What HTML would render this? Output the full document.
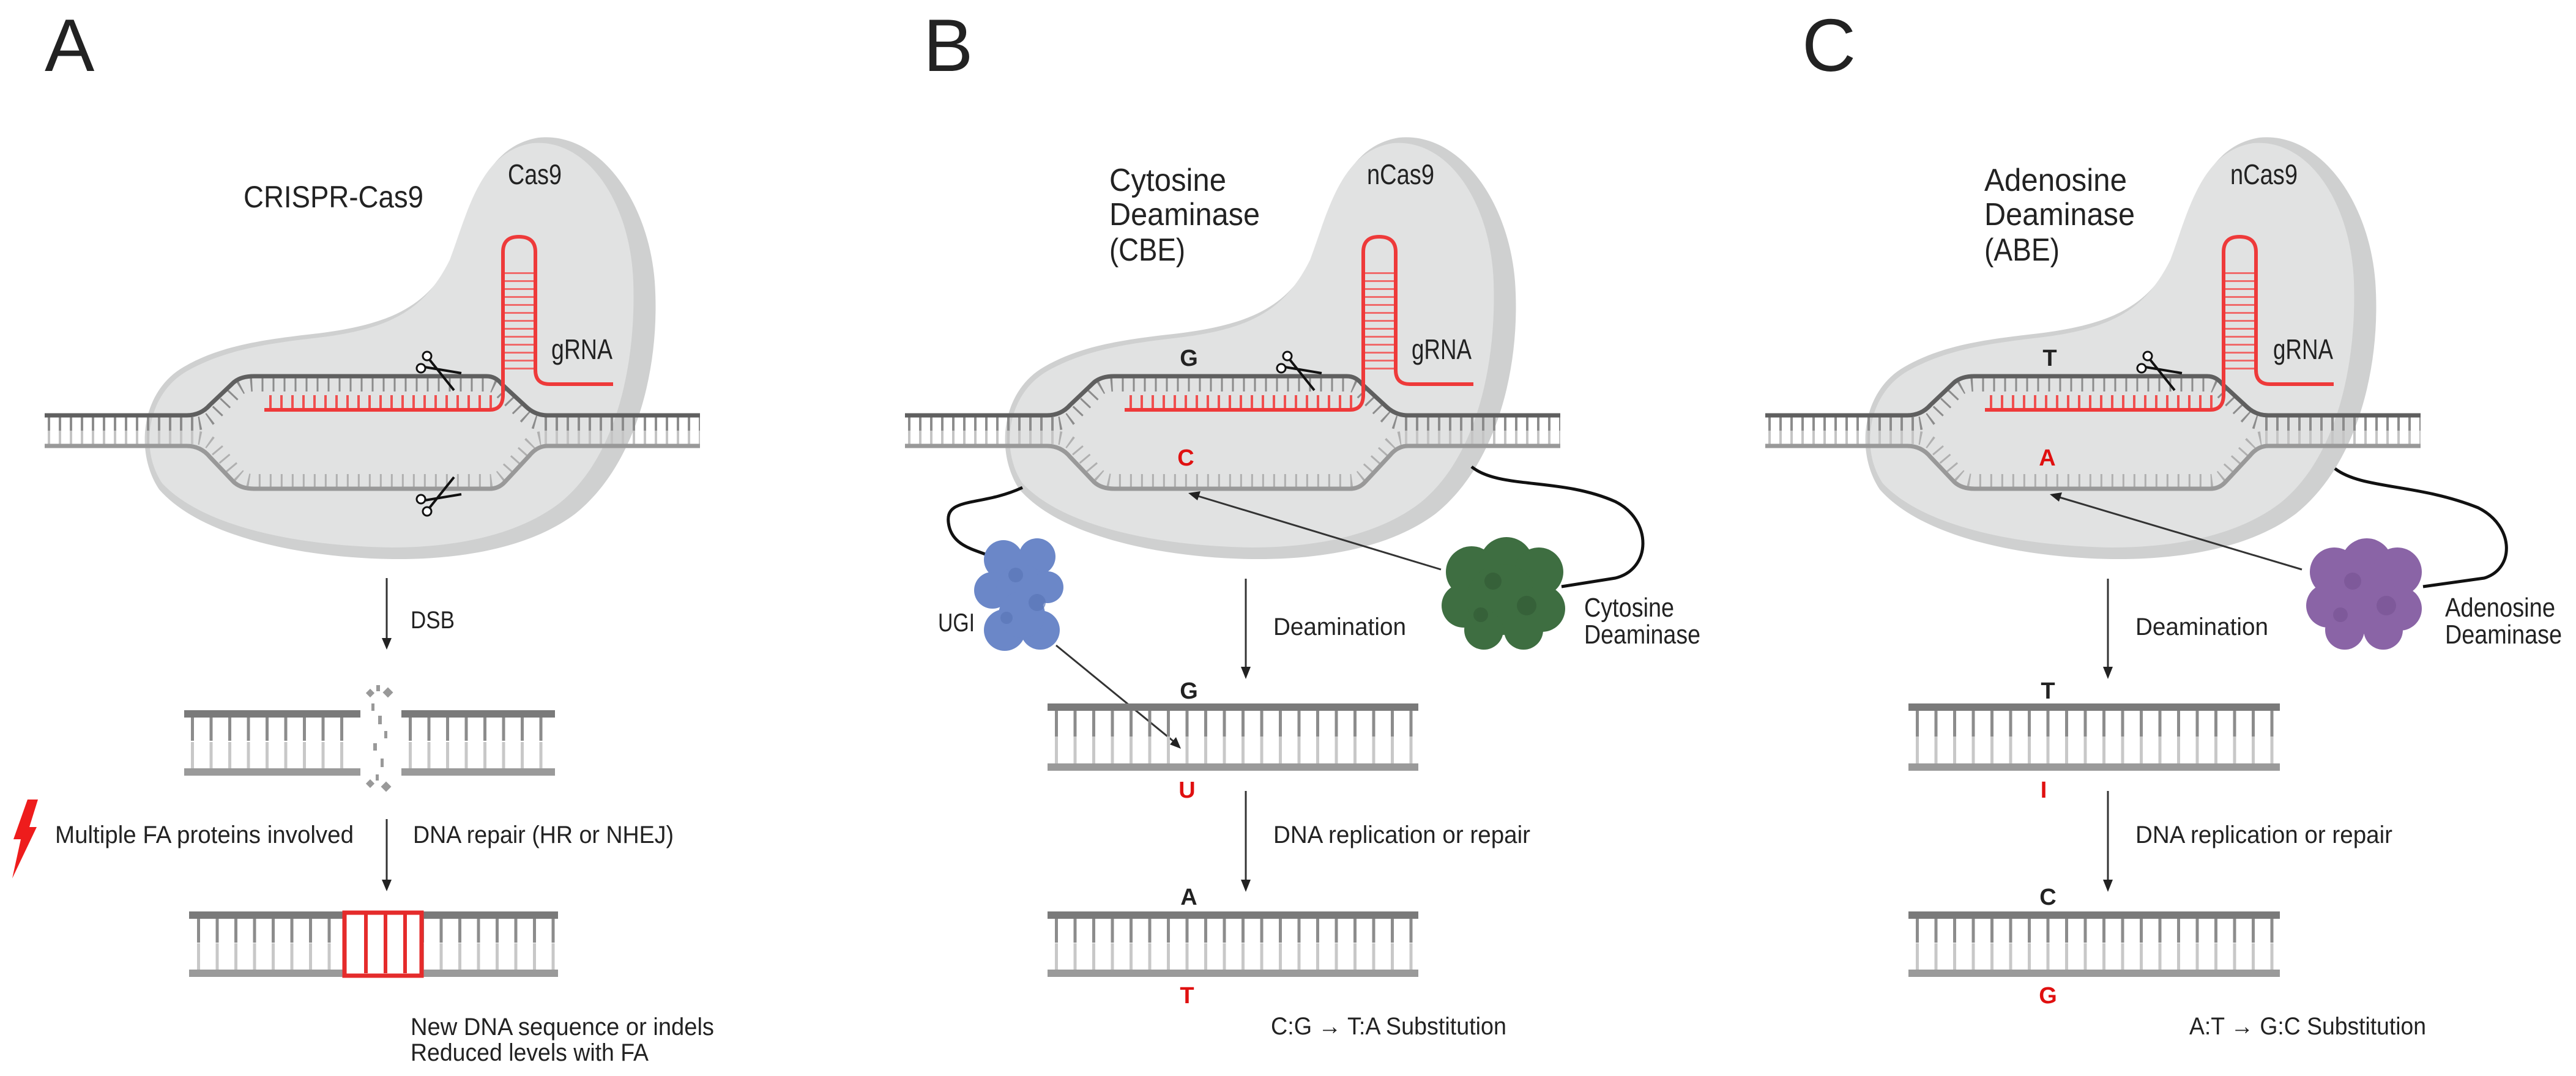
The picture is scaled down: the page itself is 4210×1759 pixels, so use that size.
<!DOCTYPE html>
<html><head><meta charset="utf-8"><style>
html,body{margin:0;padding:0;background:#fff;}
svg{display:block;}
text{font-family:"Liberation Sans",Arial,sans-serif;fill:#222;}
</style></head><body>
<svg width="4210" height="1759" viewBox="0 0 4210 1759" xmlns="http://www.w3.org/2000/svg">
<defs>
<g id="top">
  <path d="M260,800 C220,740 230,640 300,600 C360,565 430,555 520,545 C640,530 700,500 740,420 C770,340 790,240 880,225 C980,215 1060,330 1070,460 C1080,600 1040,760 940,840 C860,900 740,915 640,914 C500,912 330,880 260,800 Z" fill="#cfd0d0"/>
  <path d="M265,790 C228,735 240,645 305,607 C365,573 432,562 520,552 C640,538 695,505 735,425 C765,345 785,248 870,234 C960,226 1030,330 1035,460 C1040,600 1005,750 915,822 C840,880 730,895 640,895 C500,893 335,865 265,790 Z" fill="#e1e2e2"/>
  <line x1="78" y1="693" x2="325" y2="693" stroke="#8c8c8c" stroke-width="22" stroke-dasharray="4 14"/>
  <line x1="78" y1="715" x2="325" y2="715" stroke="#c4c4c4" stroke-width="22" stroke-dasharray="4 14"/>
  <line x1="890" y1="693" x2="1144" y2="693" stroke="#8c8c8c" stroke-width="22" stroke-dasharray="4 14"/>
  <line x1="890" y1="715" x2="1144" y2="715" stroke="#c4c4c4" stroke-width="22" stroke-dasharray="4 14"/>
  <path d="M325,692 Q340,690 352,676 L388,638 Q398,629 415,629 L795,629 Q808,629 818,640 L855,678 Q868,692 886,692" fill="none" stroke="#8c8c8c" stroke-width="22" stroke-dasharray="3 15"/>
  <path d="M325,716 Q340,718 352,732 L388,775 Q398,786 415,786 L800,786 Q812,786 822,776 L858,736 Q870,716 886,716" fill="none" stroke="#b0b0b0" stroke-width="22" stroke-dasharray="3 15"/>
  <path d="M73,679 L305,679 Q328,679 343,662 L382,625 Q394,615 415,615 L795,615 Q810,615 820,628 L860,665 Q875,679 895,679 L1144,679" fill="none" stroke="#5f5f5f" stroke-width="7"/>
  <path d="M73,729 L305,729 Q328,729 343,747 L382,788 Q394,799 415,799 L800,799 Q815,799 825,788 L865,745 Q878,729 895,729 L1144,729" fill="none" stroke="#999" stroke-width="7"/>
  <line x1="440" y1="657" x2="808" y2="657" stroke="#f05050" stroke-width="22" stroke-dasharray="4 14"/>
  <line x1="848.5" y1="445" x2="848.5" y2="610" stroke="#f06a6a" stroke-width="50" stroke-dasharray="3 10"/>
  <path d="M432,670 L800,670 Q822,670 822,645 L822,412 Q822,387 848,387 Q875,387 875,412 L875,605 Q875,628 898,628 L1002,628" fill="none" stroke="#ee3a3a" stroke-width="6"/>
</g>
<g id="sc">
  <circle cx="-14" cy="-18" r="7" fill="#fff" stroke="#111" stroke-width="3"/>
  <circle cx="-24" cy="2" r="7" fill="#fff" stroke="#111" stroke-width="3"/>
  <path d="M-10,-12 L30,38 M-18,0 L42,10" stroke="#111" stroke-width="4" fill="none"/>
</g>
</defs>

<text x="73" y="116" font-size="122">A</text>
<text x="1509" y="116" font-size="122">B</text>
<text x="2945" y="116" font-size="122">C</text>

<!-- ===== Panel A ===== -->
<use href="#top"/>
<use href="#sc" transform="translate(712,600)"/>
<use href="#sc" transform="translate(712,818) scale(1,-1)"/>
<text x="398" y="339" font-size="50" textLength="294" lengthAdjust="spacingAndGlyphs">CRISPR-Cas9</text>
<text x="830" y="301" font-size="46" textLength="88" lengthAdjust="spacingAndGlyphs">Cas9</text>
<text x="901" y="587" font-size="46" textLength="100" lengthAdjust="spacingAndGlyphs">gRNA</text>

<line x1="632" y1="945" x2="632" y2="1045" stroke="#333" stroke-width="3"/>
<polygon points="624,1043 640,1043 632,1062" fill="#222"/>
<text x="671" y="1027" font-size="40" textLength="72" lengthAdjust="spacingAndGlyphs">DSB</text>

<line x1="312" y1="1190" x2="585" y2="1190" stroke="#8c8c8c" stroke-width="42" stroke-dasharray="5 25.5"/>
<line x1="312" y1="1235" x2="585" y2="1235" stroke="#c8c8c8" stroke-width="44" stroke-dasharray="5 25.5"/>
<line x1="668" y1="1190" x2="907" y2="1190" stroke="#8c8c8c" stroke-width="42" stroke-dasharray="5 25.5"/>
<line x1="668" y1="1235" x2="907" y2="1235" stroke="#c8c8c8" stroke-width="44" stroke-dasharray="5 25.5"/>
<rect x="301" y="1161" width="288" height="12" fill="#7a7a7a"/>
<rect x="656" y="1161" width="251" height="12" fill="#7a7a7a"/>
<rect x="301" y="1256" width="288" height="12" fill="#9a9a9a"/>
<rect x="656" y="1256" width="251" height="12" fill="#9a9a9a"/>
<g fill="#999">
<rect x="600" y="1128" width="10" height="10" transform="rotate(45 605 1133)"/>
<rect x="628" y="1126" width="12" height="12" transform="rotate(45 634 1132)"/>
<rect x="615" y="1120" width="6" height="10"/>
<rect x="607" y="1150" width="5" height="12"/>
<rect x="618" y="1170" width="6" height="14"/>
<rect x="628" y="1195" width="5" height="12"/>
<rect x="610" y="1215" width="6" height="12"/>
<rect x="622" y="1240" width="5" height="14"/>
<rect x="600" y="1276" width="10" height="10" transform="rotate(45 605 1281)"/>
<rect x="625" y="1280" width="12" height="12" transform="rotate(45 631 1286)"/>
<rect x="614" y="1266" width="5" height="10"/>
</g>

<polygon points="45,1307 62,1307 48,1352 60,1352 20,1436 34,1372 22,1372" fill="#ee1c1c"/>
<text x="90" y="1378" font-size="40" textLength="488" lengthAdjust="spacingAndGlyphs">Multiple FA proteins involved</text>
<line x1="632" y1="1339" x2="632" y2="1440" stroke="#333" stroke-width="3"/>
<polygon points="624,1438 640,1438 632,1457" fill="#222"/>
<text x="675" y="1378" font-size="40" textLength="426" lengthAdjust="spacingAndGlyphs">DNA repair (HR or NHEJ)</text>

<line x1="322" y1="1520" x2="912" y2="1520" stroke="#8c8c8c" stroke-width="42" stroke-dasharray="5 25.5"/>
<line x1="322" y1="1564" x2="912" y2="1564" stroke="#c8c8c8" stroke-width="44" stroke-dasharray="5 25.5"/>
<rect x="309" y="1490" width="603" height="12" fill="#7a7a7a"/>
<rect x="309" y="1585" width="603" height="12" fill="#9a9a9a"/>
<rect x="566" y="1495" width="120" height="97" fill="#fff"/>
<line x1="595" y1="1543" x2="690" y2="1543" stroke="#e52b2b" stroke-width="96" stroke-dasharray="6 26"/>
<rect x="563" y="1492" width="126" height="103" fill="none" stroke="#e52b2b" stroke-width="7"/>
<text x="671" y="1692" font-size="40" textLength="496" lengthAdjust="spacingAndGlyphs">New DNA sequence or indels</text>
<text x="671" y="1734" font-size="40" textLength="389" lengthAdjust="spacingAndGlyphs">Reduced levels with FA</text>

<!-- ===== Panel B ===== -->
<use href="#top" transform="translate(1406,0)"/>
<use href="#sc" transform="translate(2118,600)"/>
<text x="1813" y="312" font-size="52" textLength="191" lengthAdjust="spacingAndGlyphs">Cytosine</text>
<text x="1813" y="368" font-size="52" textLength="246" lengthAdjust="spacingAndGlyphs">Deaminase</text>
<text x="1813" y="426" font-size="52" textLength="124" lengthAdjust="spacingAndGlyphs">(CBE)</text>
<text x="2234" y="301" font-size="46" textLength="110" lengthAdjust="spacingAndGlyphs">nCas9</text>
<text x="2307" y="587" font-size="46" textLength="98" lengthAdjust="spacingAndGlyphs">gRNA</text>
<text x="1943" y="598" font-size="38" font-weight="bold" text-anchor="middle">G</text>
<text x="1938" y="761" font-size="38" font-weight="bold" text-anchor="middle" style="fill:#e01010">C</text>

<path d="M1671,797 C1600,830 1540,810 1551,860 C1560,900 1610,900 1625,914" fill="none" stroke="#111" stroke-width="5"/>
<path d="M2405,763 C2450,800 2550,780 2640,820 C2700,850 2700,930 2640,945 L2552,959" fill="none" stroke="#111" stroke-width="5"/>
<g fill="#6b87c8">
<circle cx="1640" cy="915" r="32"/><circle cx="1695" cy="910" r="30"/><circle cx="1622" cy="965" r="30"/>
<circle cx="1670" cy="965" r="42"/><circle cx="1712" cy="960" r="26"/><circle cx="1642" cy="1030" r="34"/>
<circle cx="1700" cy="1030" r="32"/><circle cx="1670" cy="1005" r="38"/>
</g>
<g fill="#5a76b8" opacity="0.7"><circle cx="1660" cy="940" r="12"/><circle cx="1695" cy="985" r="14"/><circle cx="1645" cy="1010" r="10"/></g>
<text x="1533" y="1032" font-size="42" textLength="60" lengthAdjust="spacingAndGlyphs">UGI</text>
<g fill="#3e6e41">
<circle cx="2405" cy="935" r="42"/><circle cx="2462" cy="922" r="44"/><circle cx="2515" cy="935" r="40"/>
<circle cx="2392" cy="990" r="36"/><circle cx="2455" cy="980" r="58"/><circle cx="2520" cy="995" r="38"/>
<circle cx="2425" cy="1030" r="32"/><circle cx="2490" cy="1030" r="32"/>
</g>
<g fill="#335c36" opacity="0.7"><circle cx="2440" cy="950" r="14"/><circle cx="2495" cy="990" r="16"/><circle cx="2420" cy="1005" r="12"/></g>
<text x="2589" y="1008" font-size="44" textLength="147" lengthAdjust="spacingAndGlyphs">Cytosine</text>
<text x="2589" y="1052" font-size="44" textLength="190" lengthAdjust="spacingAndGlyphs">Deaminase</text>

<line x1="2355" y1="931" x2="1958" y2="811" stroke="#333" stroke-width="3"/>
<polygon points="1942,806 1962,803 1957,818" fill="#222"/>
<line x1="1726" y1="1055" x2="1918" y2="1212" stroke="#333" stroke-width="3"/>
<polygon points="1930,1224 1912,1217 1922,1205" fill="#222"/>

<line x1="2036" y1="946" x2="2036" y2="1092" stroke="#333" stroke-width="3"/>
<polygon points="2028,1090 2044,1090 2036,1110" fill="#222"/>
<text x="2081" y="1038" font-size="40" textLength="217" lengthAdjust="spacingAndGlyphs">Deamination</text>
<text x="1943" y="1142" font-size="38" font-weight="bold" text-anchor="middle">G</text>
<line x1="1724" y1="1183" x2="2318" y2="1183" stroke="#8c8c8c" stroke-width="42" stroke-dasharray="5 25.5"/>
<line x1="1724" y1="1226" x2="2318" y2="1226" stroke="#c8c8c8" stroke-width="44" stroke-dasharray="5 25.5"/>
<rect x="1712" y="1150" width="606" height="12" fill="#7a7a7a"/>
<rect x="1712" y="1248" width="606" height="12" fill="#9a9a9a"/>
<text x="1940" y="1304" font-size="38" font-weight="bold" text-anchor="middle" style="fill:#e01010">U</text>
<line x1="2036" y1="1293" x2="2036" y2="1440" stroke="#333" stroke-width="3"/>
<polygon points="2028,1438 2044,1438 2036,1458" fill="#222"/>
<text x="2081" y="1378" font-size="40" textLength="420" lengthAdjust="spacingAndGlyphs">DNA replication or repair</text>
<text x="1943" y="1479" font-size="38" font-weight="bold" text-anchor="middle">A</text>
<line x1="1724" y1="1520" x2="2318" y2="1520" stroke="#8c8c8c" stroke-width="42" stroke-dasharray="5 25.5"/>
<line x1="1724" y1="1564" x2="2318" y2="1564" stroke="#c8c8c8" stroke-width="44" stroke-dasharray="5 25.5"/>
<rect x="1712" y="1490" width="606" height="12" fill="#7a7a7a"/>
<rect x="1712" y="1585" width="606" height="12" fill="#9a9a9a"/>
<text x="1940" y="1640" font-size="38" font-weight="bold" text-anchor="middle" style="fill:#e01010">T</text>
<text x="2077" y="1691" font-size="40" textLength="385" lengthAdjust="spacingAndGlyphs">C:G → T:A Substitution</text>

<!-- ===== Panel C ===== -->
<use href="#top" transform="translate(2812,0)"/>
<use href="#sc" transform="translate(3524,600)"/>
<text x="3243" y="312" font-size="52" textLength="233" lengthAdjust="spacingAndGlyphs">Adenosine</text>
<text x="3243" y="368" font-size="52" textLength="246" lengthAdjust="spacingAndGlyphs">Deaminase</text>
<text x="3243" y="426" font-size="52" textLength="123" lengthAdjust="spacingAndGlyphs">(ABE)</text>
<text x="3645" y="301" font-size="46" textLength="110" lengthAdjust="spacingAndGlyphs">nCas9</text>
<text x="3715" y="587" font-size="46" textLength="98" lengthAdjust="spacingAndGlyphs">gRNA</text>
<text x="3350" y="598" font-size="38" font-weight="bold" text-anchor="middle">T</text>
<text x="3346" y="761" font-size="38" font-weight="bold" text-anchor="middle" style="fill:#e01010">A</text>

<path d="M3816,766 C3860,800 3950,790 4050,830 C4110,860 4110,930 4060,945 L3960,959" fill="none" stroke="#111" stroke-width="5"/>
<g fill="#8a64a6">
<circle cx="3815" cy="935" r="40"/><circle cx="3868" cy="922" r="42"/><circle cx="3918" cy="935" r="40"/>
<circle cx="3805" cy="990" r="36"/><circle cx="3862" cy="980" r="56"/><circle cx="3922" cy="995" r="36"/>
<circle cx="3832" cy="1030" r="32"/><circle cx="3895" cy="1030" r="32"/>
</g>
<g fill="#7a5596" opacity="0.7"><circle cx="3845" cy="950" r="14"/><circle cx="3900" cy="990" r="16"/><circle cx="3825" cy="1005" r="12"/></g>
<text x="3996" y="1008" font-size="44" textLength="180" lengthAdjust="spacingAndGlyphs">Adenosine</text>
<text x="3996" y="1052" font-size="44" textLength="191" lengthAdjust="spacingAndGlyphs">Deaminase</text>
<line x1="3762" y1="931" x2="3366" y2="813" stroke="#333" stroke-width="3"/>
<polygon points="3350,808 3370,805 3365,820" fill="#222"/>

<line x1="3445" y1="946" x2="3445" y2="1092" stroke="#333" stroke-width="3"/>
<polygon points="3437,1090 3453,1090 3445,1110" fill="#222"/>
<text x="3490" y="1038" font-size="40" textLength="217" lengthAdjust="spacingAndGlyphs">Deamination</text>
<text x="3347" y="1142" font-size="38" font-weight="bold" text-anchor="middle">T</text>
<line x1="3131" y1="1183" x2="3726" y2="1183" stroke="#8c8c8c" stroke-width="42" stroke-dasharray="5 25.5"/>
<line x1="3131" y1="1226" x2="3726" y2="1226" stroke="#c8c8c8" stroke-width="44" stroke-dasharray="5 25.5"/>
<rect x="3119" y="1150" width="607" height="12" fill="#7a7a7a"/>
<rect x="3119" y="1248" width="607" height="12" fill="#9a9a9a"/>
<text x="3340" y="1304" font-size="38" font-weight="bold" text-anchor="middle" style="fill:#e01010">I</text>
<line x1="3445" y1="1293" x2="3445" y2="1440" stroke="#333" stroke-width="3"/>
<polygon points="3437,1438 3453,1438 3445,1458" fill="#222"/>
<text x="3490" y="1378" font-size="40" textLength="420" lengthAdjust="spacingAndGlyphs">DNA replication or repair</text>
<text x="3347" y="1479" font-size="38" font-weight="bold" text-anchor="middle">C</text>
<line x1="3131" y1="1520" x2="3726" y2="1520" stroke="#8c8c8c" stroke-width="42" stroke-dasharray="5 25.5"/>
<line x1="3131" y1="1564" x2="3726" y2="1564" stroke="#c8c8c8" stroke-width="44" stroke-dasharray="5 25.5"/>
<rect x="3119" y="1490" width="607" height="12" fill="#7a7a7a"/>
<rect x="3119" y="1585" width="607" height="12" fill="#9a9a9a"/>
<text x="3347" y="1640" font-size="38" font-weight="bold" text-anchor="middle" style="fill:#e01010">G</text>
<text x="3578" y="1691" font-size="40" textLength="387" lengthAdjust="spacingAndGlyphs">A:T → G:C Substitution</text>
</svg>
</body></html>
